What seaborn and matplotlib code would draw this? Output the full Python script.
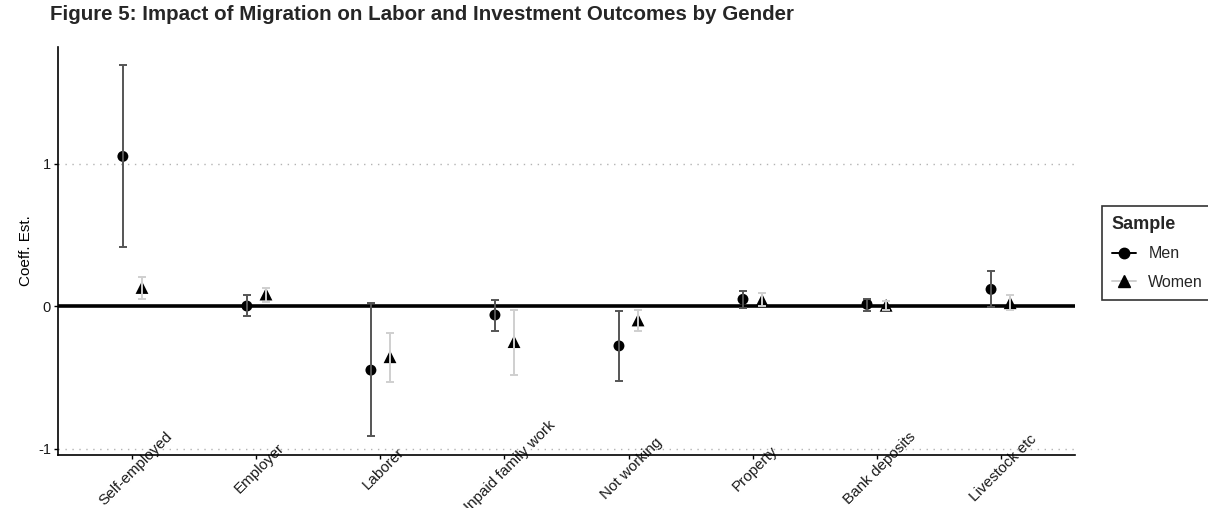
import numpy as np
import pandas as pd
import matplotlib
matplotlib.use("Agg")
import matplotlib.pyplot as plt
import matplotlib.transforms as mtransforms
import seaborn as sns
from matplotlib.lines import Line2D

# Outcome categories and coefficient estimates with 95% CIs
outcomes = ["Self-employed", "Employer", "Laborer", "Unpaid family work",
            "Not working", "Property", "Bank deposits", "Livestock etc"]
men_est = [1.05, 0.0, -0.45, -0.063, -0.28, 0.047, 0.012, 0.117]
men_lo = [0.414, -0.07, -0.912, -0.173, -0.529, -0.016, -0.033, -0.005]
men_hi = [1.69, 0.077, 0.019, 0.042, -0.033, 0.107, 0.047, 0.248]
women_est = [0.13, 0.084, -0.356, -0.25, -0.098, 0.042, 0.005, 0.023]
women_lo = [0.047, 0.028, -0.531, -0.484, -0.175, 0.0, -0.03, -0.028]
women_hi = [0.205, 0.13, -0.187, -0.028, -0.028, 0.089, 0.037, 0.077]
samples = ["Men", "Women"]

sns.set_theme(style="white")
plt.rcParams["font.family"] = ["Liberation Sans", "DejaVu Sans"]

rows = []
for s, est, lo, hi in [("Men", men_est, men_lo, men_hi),
                       ("Women", women_est, women_lo, women_hi)]:
    for i, o in enumerate(outcomes):
        rows.append(dict(outcome=o, idx=i, sample=s, est=est[i], lo=lo[i], hi=hi[i]))
df = pd.DataFrame(rows)

dodge = {"Men": -0.077, "Women": 0.077}
df["xpos"] = df["idx"] + df["sample"].map(dodge)

fig = plt.figure(figsize=(12.08, 5.08), dpi=100)
W, H = 1208, 508
ax = fig.add_axes([58 / W, (H - 454.5) / H, (1075 - 58) / W, (454.5 - 46.7) / H])

# reference lines
for yv in (1, -1):
    ax.axhline(yv, color="#b3b3b3", lw=1.0, ls=(0, (1, 4)), zorder=0)
ax.axhline(0, color="black", lw=2.6, zorder=1)

marker_map = {"Men": "o", "Women": "^"}
marker_size = {"Men": 62, "Women": 85}
for s in samples:
    sns.scatterplot(data=df[df["sample"] == s], x="xpos", y="est",
                    color="black", marker=marker_map[s], s=marker_size[s],
                    edgecolor="none", linewidth=0, legend=False, ax=ax, zorder=3)

bar_col = {"Men": "#555555", "Women": "#cfcfcf"}
for s in samples:
    d = df[df["sample"] == s]
    ax.errorbar(d["xpos"], d["est"], yerr=[d["est"] - d["lo"], d["hi"] - d["est"]],
                fmt="none", ecolor=bar_col[s], elinewidth=1.4, capsize=3.2,
                capthick=1.4, zorder=4)

lo_all = min(df["lo"].min(), df["est"].min())
hi_all = max(df["hi"].max(), df["est"].max())
pad = 0.05 * (hi_all - lo_all)
ax.set_ylim(lo_all - pad, hi_all + pad)
ax.set_xlim(-0.6, len(outcomes) - 0.4)

ax.set_yticks([-1, 0, 1])
ax.set_yticklabels(["-1", "0", "1"])
ax.set_xticks(range(len(outcomes)))
ax.set_xticklabels(outcomes, rotation=45, ha="center", va="center",
                   rotation_mode="anchor")
ax.tick_params(axis="x", length=3, width=1, color="black", pad=7,
               labelsize=11, labelcolor="#1a1a1a", bottom=True)
ax.tick_params(axis="y", length=3, width=1, color="black", pad=2,
               labelsize=10.5, labelcolor="#1a1a1a", left=True)
shift = mtransforms.ScaledTranslation(3 / 100, 0, fig.dpi_scale_trans)
for lab in ax.get_xticklabels():
    lab.set_transform(lab.get_transform() + shift)
ax.set_xlabel("")
ax.set_ylabel("Coeff. Est.", fontsize=11, color="black", labelpad=4)

for side in ("top", "right"):
    ax.spines[side].set_visible(False)
for side in ("left", "bottom"):
    ax.spines[side].set_color("black")
    ax.spines[side].set_linewidth(1.2)
ax.grid(False)

fig.text(50 / W, 1 - 14.5 / H, "Figure 5: Impact of Migration on Labor and Investment Outcomes by Gender",
         fontsize=14.8, fontweight="bold", ha="left", va="center")

handles = [
    Line2D([0], [0], color="black", lw=1.4, marker="o", ms=7.5,
           mfc="black", mec="black"),
    Line2D([0], [0], color="#cfcfcf", lw=1.4, marker="^", ms=8,
           mfc="black", mec="black"),
]
leg = fig.legend(handles, samples, title="Sample", loc="center left",
                 bbox_to_anchor=(1094 / W, 1 - 253 / H), frameon=True,
                 fontsize=11.5, title_fontproperties={"weight": "bold", "size": 13},
                 handlelength=1.5, handletextpad=0.8, borderpad=0.6,
                 labelspacing=0.85, fancybox=False)
leg.get_frame().set_edgecolor("black")
leg.get_frame().set_linewidth(1.2)
leg._legend_box.align = "left"

fig.savefig("out.png", dpi=100)
